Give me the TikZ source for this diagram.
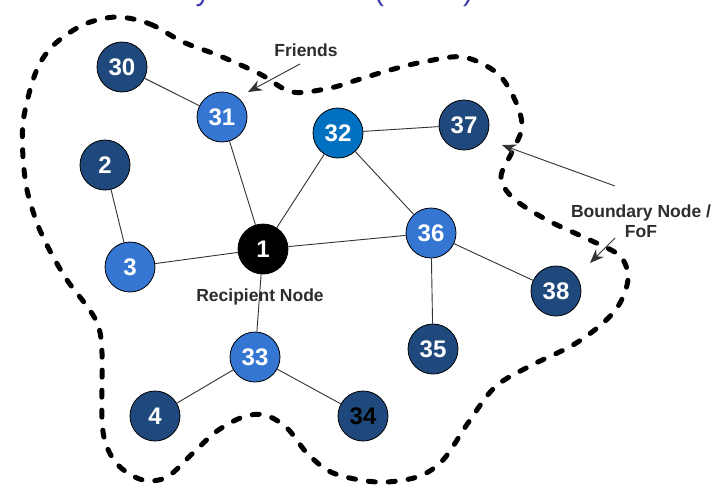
\documentclass[tikz,border=0pt]{standalone}
\usepackage{fontspec}
\setmainfont{Liberation Sans}
\usetikzlibrary{arrows.meta}
\definecolor{dkblue}{RGB}{31,73,125}
\definecolor{mdblue}{RGB}{52,118,210}
\definecolor{brblue}{RGB}{0,112,192}
\definecolor{edgegray}{RGB}{50,50,50}
\definecolor{labelgray}{RGB}{45,45,45}
\definecolor{titleblue}{RGB}{60,60,175}
\tikzset{
  gnode/.style={circle, draw=black, line width=0.8pt, minimum size=50pt, inner sep=0pt,
    text=white, font=\fontsize{24}{24}\selectfont\bfseries},
  dknode/.style={gnode, fill=dkblue},
  mdnode/.style={gnode, fill=mdblue},
  brnode/.style={gnode, fill=brblue},
  blknode/.style={gnode, fill=black},
  edge/.style={draw=edgegray, line width=0.9pt},
  lbl/.style={text=labelgray, font=\fontsize{17.5}{20}\selectfont\bfseries, inner sep=0pt, align=center},
  arr/.style={draw=edgegray, line width=0.9pt, -{Stealth[length=14pt,width=11pt]}},
  boundary/.style={draw=black, line width=5pt, line cap=round, dash pattern=on 7pt off 13pt},
  ttl/.style={text=titleblue, font=\fontsize{30}{30}\selectfont, anchor=base, inner sep=0pt}
}
\begin{document}
\begin{tikzpicture}[x=1pt,y=-1pt]
\useasboundingbox (0,0) rectangle (717,488);
\fill[white] (0,0) rectangle (717,488);

% cut-off title
\begin{scope}
\clip (0,0) rectangle (717,8);
\node[ttl] (t1) at (203,0) {y};
\node[ttl] (t2) at (379,0) {(};
\node[ttl] (t3) at (468,0) {)};
\end{scope}

% boundary
\draw[boundary] plot[smooth cycle, tension=0.55] coordinates {
(117,17) (150,24) (183,42) (220,56) (260,74) (292,92) (330,88) (357,80) (390,70)
(423,62) (463,57) (497,73) (515,100) (522,127) (512,152) (501,177) (513,198)
(547,220) (590,240) (620,256) (628,278) (620,303) (603,323) (573,345) (530,366)
(495,387) (468,423) (443,460) (417,477) (377,482) (333,473) (307,453) (287,428)
(265,415) (243,417) (217,431) (193,453) (167,477) (143,480) (120,467) (107,447)
(102,420) (102,353) (98,325) (86,305) (67,280) (50,251) (37,223) (27,190)
(23,157) (23,123) (30,90) (40,63) (57,42) (85,24)};

% nodes
\node[dknode] (n30) at (122,67) {30};
\node[mdnode] (n31) at (222,117) {31};
\node[dknode] (n2) at (105,165) {2};
\node[mdnode] (n3) at (130,267) {3};
\node[blknode] (n1) at (263,249) {1};
\node[brnode] (n32) at (338,133) {32};
\node[dknode] (n37) at (464,125) {37};
\node[mdnode] (n36) at (431,233) {36};
\node[dknode] (n38) at (556,291) {38};
\node[dknode] (n35) at (433,349) {35};
\node[mdnode] (n33) at (255,357) {33};
\node[dknode] (n4) at (155,416) {4};
\node[dknode, text=black] (n34) at (363,416) {34};

% edges
\draw[edge] (n30) -- (n31);
\draw[edge] (n31) -- (n1);
\draw[edge] (n2) -- (n3);
\draw[edge] (n3) -- (n1);
\draw[edge] (n1) -- (n32);
\draw[edge] (n32) -- (n37);
\draw[edge] (n32) -- (n36);
\draw[edge] (n1) -- (n36);
\draw[edge] (n36) -- (n38);
\draw[edge] (n36) -- (n35);
\draw[edge] (n1) -- (n33);
\draw[edge] (n33) -- (n4);
\draw[edge] (n33) -- (n34);

% labels
\node[lbl] (lfr) at (306,50) {Friends};
\node[lbl] (lrec) at (260,297) {Recipient Node};
\node[lbl] (lbnd) at (641,221) {Boundary Node /\\FoF};

% arrows
\coordinate (fa1) at (300,64);
\coordinate (fa2) at (248,92);
\draw[arr] (fa1) -- (fa2);
\coordinate (ba1) at (615,186);
\coordinate (ba2) at (502,145);
\draw[arr] (ba1) -- (ba2);
\coordinate (bb1) at (615,238);
\coordinate (bb2) at (590,263);
\draw[arr] (bb1) -- (bb2);
\end{tikzpicture}
\end{document}
